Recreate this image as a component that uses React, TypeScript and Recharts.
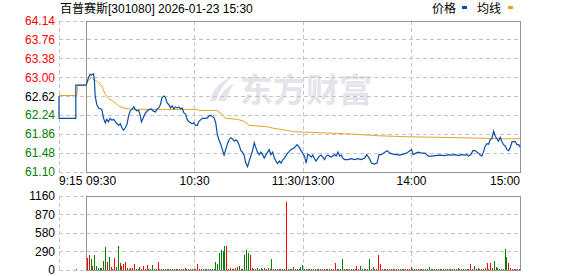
import {
  ComposedChart,
  BarChart,
  Line,
  Bar,
  Cell,
  XAxis,
  YAxis,
  CartesianGrid,
  ReferenceArea,
} from "recharts"

const title = "百普赛斯[301080] 2026-01-23 15:30"
const preClose = 62.62
const priceTicks = [61.1, 61.48, 61.86, 62.24, 62.62, 63.0, 63.38, 63.76, 64.14]
const pctLabels = ["2.43%", "1.82%", "1.21%", "0.61%", "0.00%", "0.61%", "1.21%", "1.82%", "2.43%"]
const volTicks = [0, 290, 580, 870, 1160]
// minutes since 9:15
const timeTicks = [0, 15, 75, 135, 195, 255]
const timeLabels = ["9:15", "09:30", "10:30", "11:30/13:00", "14:00", "15:00"]

// [minute, price]
const pricePoints: [number, number][] = [
  [0, 62.63], [0, 62.18], [9.3, 62.18], [9.3, 62.85], [15, 62.85],
  [16.3, 63.0], [17.2, 63.07], [17.8, 63.05], [19.1, 63.08], [19.6, 62.93], [20, 62.63],
  [20.9, 62.46], [21.9, 62.39], [23.7, 62.36], [24.6, 62.19], [25.6, 62.09], [26.5, 62.16],
  [27.4, 62.11], [28.3, 62.18], [29.3, 62.14], [30.2, 62.16], [31.1, 62.12], [32, 62.07],
  [33, 62.04], [33.9, 62.07], [34.8, 61.99], [35.7, 61.94], [36.7, 61.99], [37.6, 62.06],
  [38.5, 62.23], [39.4, 62.33], [40.4, 62.36], [41.3, 62.41], [42.2, 62.36], [43.1, 62.33],
  [44.1, 62.34], [45, 62.23], [45.6, 62.11], [46.3, 62.16], [47.4, 62.26], [48.7, 62.33],
  [50, 62.36], [51.1, 62.37], [52, 62.33], [53.3, 62.31], [54.3, 62.37], [55.2, 62.39],
  [56.1, 62.46], [57, 62.6], [58, 62.63], [58.9, 62.6], [59.8, 62.49], [60.7, 62.46],
  [61.7, 62.39], [62.6, 62.43], [63.5, 62.37], [64.4, 62.41], [65.4, 62.39], [66.3, 62.41],
  [67.2, 62.37], [68.1, 62.39], [69.1, 62.29], [70, 62.26], [70.9, 62.16], [71.9, 62.11],
  [72.8, 62.09], [73.7, 62.07], [74.6, 62.09], [75.6, 62.04], [76.5, 62.04], [77.4, 62.12],
  [79.3, 62.18], [81.1, 62.18], [82.1, 62.19], [83, 62.23], [84, 62.24], [85.8, 62.19],
  [86.7, 62.09], [87.6, 61.85], [88.5, 61.75], [89.5, 61.65], [90.4, 61.55], [91.3, 61.44],
  [92.2, 61.55], [93.2, 61.67], [94.1, 61.75], [95, 61.79], [95.9, 61.77], [96.9, 61.72],
  [97.8, 61.75], [98.7, 61.72], [99.6, 61.65], [100.6, 61.53], [101.5, 61.5], [102.4, 61.44],
  [103.3, 61.28], [104.3, 61.21], [105.2, 61.32], [106.1, 61.42], [107, 61.52], [108, 61.69],
  [108.9, 61.59], [109.8, 61.5], [110.8, 61.45], [111.7, 61.5], [112.6, 61.45], [113.5, 61.38],
  [114.5, 61.45], [115.4, 61.5], [116.3, 61.55], [117.2, 61.45], [118.2, 61.5], [119.1, 61.38],
  [120, 61.32], [120.9, 61.27], [121.9, 61.32], [122.8, 61.28], [123.7, 61.34], [124.6, 61.38],
  [126.5, 61.48], [128.3, 61.55], [130.2, 61.59], [131.7, 61.65], [133, 61.59], [133.9, 61.53],
  [134.8, 61.48], [135.8, 61.42], [136.7, 61.28], [137.6, 61.46], [138.5, 61.44], [139.5, 61.4],
  [140.4, 61.44], [141.3, 61.37], [142.2, 61.32], [143.2, 61.38], [144.1, 61.42], [145, 61.44],
  [145.9, 61.4], [146.9, 61.35], [147.8, 61.42], [148.7, 61.44], [150.6, 61.4], [152.4, 61.45],
  [153.3, 61.42], [154.3, 61.5], [155.2, 61.42], [156.1, 61.44], [157, 61.38], [158, 61.35],
  [159.8, 61.35], [161.7, 61.37], [163.5, 61.35], [165.4, 61.37], [167.2, 61.35], [169.1, 61.38],
  [170.2, 61.45], [171.9, 61.36], [172.8, 61.28], [174.6, 61.26], [175.9, 61.28], [177, 61.45],
  [178.3, 61.45], [180.2, 61.5], [181.5, 61.53], [183, 61.48], [184.8, 61.46], [186.7, 61.45],
  [188.5, 61.44], [190.4, 61.46], [192.2, 61.48], [194.1, 61.53], [195, 61.55], [195.9, 61.45],
  [197.4, 61.48], [198.7, 61.5], [200.6, 61.48], [202.4, 61.48], [204.3, 61.42], [206.1, 61.42],
  [208, 61.43], [210.7, 61.44], [213.5, 61.43], [215.4, 61.45], [217.2, 61.44], [219.1, 61.45],
  [220.9, 61.43], [222.8, 61.45], [224.1, 61.44], [225.6, 61.45], [226.5, 61.42], [227.8, 61.45],
  [228.9, 61.53], [230.2, 61.53], [231.1, 61.5], [232, 61.48], [233, 61.44], [233.9, 61.42],
  [234.8, 61.5], [235.7, 61.62], [236.7, 61.67], [237.6, 61.66], [238.5, 61.75], [239.4, 61.77],
  [240.4, 61.92], [241.3, 61.82], [242.2, 61.77], [243.1, 61.72], [244.1, 61.8], [245, 61.71],
  [245.9, 61.65], [246.9, 61.62], [247.8, 61.55], [248.7, 61.53], [249.6, 61.59], [250.6, 61.71],
  [252.4, 61.71], [253.3, 61.65], [254.3, 61.65], [255, 61.6],
]

// [minute, average price]
const avgPoints: [number, number][] = [
  [0, 62.64], [9.8, 62.64], [10.4, 62.85], [15, 62.85], [16.3, 62.95], [18.1, 63.0],
  [20, 62.95], [21.9, 62.9], [23.7, 62.83], [25.6, 62.66], [27.4, 62.58], [29.3, 62.54],
  [31.1, 62.49], [33, 62.43], [35.7, 62.39], [38.5, 62.37], [42.2, 62.36], [76.5, 62.36],
  [77.4, 62.34], [86.7, 62.34], [87.6, 62.33], [90.4, 62.26], [92.2, 62.18], [98.7, 62.16],
  [102.4, 62.12], [105.2, 62.04], [115.4, 62.01], [117.2, 61.99], [125.6, 61.94], [130.2, 61.91],
  [145, 61.89], [158, 61.87], [168.2, 61.85], [176.5, 61.83], [192.2, 61.81], [221.9, 61.79],
  [246.9, 61.77], [255, 61.77],
]

// auction volume at 9:25
const auctionVolume = 20
// per-minute volume 9:31 .. 15:00
const volumes = [
  183, 230, 168, 63, 230, 63, 31, 31, 31, 146,
  360, 125, 204, 42, 21, 188, 47, 376, 110, 63,
  94, 125, 31, 21, 31, 31, 94, 16, 16, 47,
  16, 63, 16, 78, 16, 16, 78, 16, 16, 125,
  15, 15, 15, 15, 15, 15, 15, 15, 15, 15,
  15, 15, 15, 15, 31, 15, 15, 15, 15, 15,
  15, 94, 15, 15, 15, 15, 15, 15, 15, 15,
  15, 125, 100, 266, 313, 303, 376, 376, 15, 31,
  15, 15, 31, 47, 63, 15, 15, 235, 313, 266,
  235, 31, 15, 15, 26, 15, 31, 15, 31, 15,
  31, 15, 172, 15, 15, 15, 15, 15, 15, 15,
  1066, 15, 15, 15, 47, 15, 15, 15, 47, 78,
  15, 15, 15, 15, 15, 15, 15, 15, 15, 15,
  15, 15, 15, 15, 15, 15, 15, 110, 15, 15,
  15, 172, 15, 15, 15, 15, 15, 15, 15, 63,
  15, 63, 15, 15, 15, 15, 172, 15, 47, 15,
  15, 235, 94, 15, 15, 15, 15, 15, 15, 15,
  15, 15, 15, 15, 15, 15, 15, 15, 15, 47,
  15, 15, 15, 15, 15, 15, 15, 15, 15, 47,
  15, 15, 15, 15, 15, 15, 15, 15, 15, 15,
  15, 15, 15, 15, 15, 31, 15, 15, 15, 15,
  15, 15, 94, 15, 63, 15, 31, 15, 15, 15,
  31, 110, 15, 110, 31, 141, 47, 31, 15, 15,
  15, 329, 204, 110, 31, 15, 15, 15, 15, 15,
]
// r = up minute, g = down minute
const volumeDirs = [
  "rrgrgggggg", "grgrrrggrg", "rrrrrrrggg", "rrrrrgggrr", "ggrrgrggrr",
  "grgrrgrggg", "rrrgrggrgg", "gggggggrgr", "rgrrgggggg", "rrrggrggrg",
  "rggrggrgrg", "rgrggrgggg", "rggrrggrgr", "grrggrgrgr", "ggrgrrggrr",
  "rggrgggrgr", "rrrrgrrgrr", "grrgrrgrrr", "rgrrggrggg", "grggrgrrgg",
  "rggrgrgggg", "rgrggrgrgr", "rrgrrggggr", "gggrrrgrrg",
].join("")

const RED = "#ff0000"
const GREEN = "#008000"
const BLUE = "#0a4fa3"
const ORANGE = "#e3a526"
const GRID = "#c4c4c4"
const BORDER = "#939393"
const FONT = '"Liberation Sans", "Noto Sans CJK SC", sans-serif'
const CJK = '"Noto Sans CJK SC", "Liberation Sans", sans-serif'

const priceData = pricePoints.map(([t, p]) => ({ t, p }))
const avgData = avgPoints.map(([t, p]) => ({ t, p }))
const volumeData = [
  { t: 10, v: auctionVolume, up: true },
  ...volumes.map((v, i) => ({ t: 16 + i, v, up: volumeDirs[i] === "r" })),
]

const levelColor = (v: number) =>
  v > preClose + 0.001 ? RED : v < preClose - 0.001 ? GREEN : "#000"

const LeftPriceTick = (props: any) => {
  const { x, y, payload } = props
  return (
    <text x={x} y={y} dy={4} textAnchor="end" fontSize={12} fontFamily={FONT} fill={levelColor(payload.value)}>
      {payload.value.toFixed(2)}
    </text>
  )
}

const RightPctTick = (props: any) => {
  const { x, y, payload, index } = props
  return (
    <text x={x} y={y} dy={4} textAnchor="start" fontSize={12} fontFamily={FONT} fill={levelColor(payload.value)}>
      {pctLabels[index]}
    </text>
  )
}

const TimeTick = (props: any) => {
  const { x, y, index } = props
  const anchor = index <= 1 ? "start" : index === timeLabels.length - 1 ? "end" : "middle"
  return (
    <text x={x} y={y} dy={13} textAnchor={anchor} fontSize={12} fontFamily={FONT} fill="#000">
      {timeLabels[index]}
    </text>
  )
}

const VolTick = (props: any) => {
  const { x, y, payload } = props
  return (
    <text x={x} y={y} dy={4} textAnchor="end" fontSize={12} fontFamily={FONT} fill="#000">
      {payload.value}
    </text>
  )
}

export default function App() {
  return (
    <div style={{ position: "absolute", left: 0, top: 0, width: 578, height: 276, background: "#fff" }}>
      {/* watermark */}
      <div style={{ position: "absolute", left: 204, top: 72, display: "flex", alignItems: "center" }}>
        <svg width={32} height={32} style={{ marginRight: 4 }}>
          <path d="M6 28 Q10 10 28 4 Q16 14 12 28 Z" fill="#e4e4ea" />
          <path d="M14 28 Q18 16 30 10 Q24 20 22 28 Z" fill="#e4e4ea" />
        </svg>
        <span style={{ fontFamily: CJK, fontWeight: 700, fontSize: 33, lineHeight: "33px", color: "#e4e4ea" }}>
          东方财富
        </span>
      </div>

      <div style={{ position: "absolute", left: 0, top: 0 }}>
        <ComposedChart width={578} height={190} margin={{ top: 21, right: 0, bottom: 0, left: 0 }}>
          <CartesianGrid yAxisId="left" stroke={GRID} strokeDasharray="4 3" shapeRendering="crispEdges" />
          <XAxis
            dataKey="t"
            type="number"
            domain={[0, 255]}
            ticks={timeTicks}
            interval={0}
            height={18}
            tickSize={0}
            tickMargin={0}
            axisLine={false}
            tickLine={false}
            tick={TimeTick}
          />
          <YAxis
            yAxisId="left"
            type="number"
            domain={[61.1, 64.14]}
            ticks={priceTicks}
            interval={0}
            width={59}
            tickSize={0}
            tickMargin={4}
            axisLine={false}
            tickLine={false}
            tick={LeftPriceTick}
          />
          <YAxis
            yAxisId="right"
            orientation="right"
            type="number"
            domain={[61.1, 64.14]}
            ticks={priceTicks}
            interval={0}
            width={58}
            tickSize={0}
            tickMargin={3}
            axisLine={false}
            tickLine={false}
            tick={RightPctTick}
          />
          <ReferenceArea
            yAxisId="left"
            x1={15}
            x2={255}
            y1={61.1}
            y2={64.14}
            fill="none"
            stroke={BORDER}
            strokeWidth={1}
            shapeRendering="crispEdges"
            ifOverflow="visible"
          />
          <Line
            yAxisId="left"
            data={avgData}
            dataKey="p"
            type="linear"
            stroke={ORANGE}
            strokeWidth={1}
            dot={false}
            isAnimationActive={false}
          />
          <Line
            yAxisId="left"
            data={priceData}
            dataKey="p"
            type="linear"
            stroke={BLUE}
            strokeWidth={1.2}
            dot={false}
            isAnimationActive={false}
          />
        </ComposedChart>
      </div>

      <div style={{ position: "absolute", left: 0, top: 186 }}>
        <BarChart width={578} height={90} data={volumeData} margin={{ top: 10, right: 58, bottom: 6, left: 0 }}>
          <CartesianGrid stroke={GRID} strokeDasharray="4 3" shapeRendering="crispEdges" />
          <XAxis dataKey="t" type="number" domain={[0, 255]} ticks={timeTicks} interval={0} hide />
          <YAxis
            type="number"
            domain={[0, 1160]}
            ticks={volTicks}
            interval={0}
            width={59}
            tickSize={0}
            tickMargin={4}
            axisLine={false}
            tickLine={false}
            tick={VolTick}
          />
          <ReferenceArea
            x1={15}
            x2={255}
            y1={0}
            y2={1160}
            fill="none"
            stroke={BORDER}
            strokeWidth={1}
            shapeRendering="crispEdges"
            ifOverflow="visible"
          />
          <Bar dataKey="v" barSize={1} shapeRendering="crispEdges" isAnimationActive={false}>
            {volumeData.map((d, i) => (
              <Cell key={i} fill={d.up ? RED : GREEN} />
            ))}
          </Bar>
        </BarChart>
      </div>

      {/* title and legend */}
      <svg width={578} height={20} style={{ position: "absolute", left: 0, top: 0 }}>
        <text x={60} y={13} fontSize={12} fontFamily={FONT} fill="#000">
          {title}
        </text>
        <text x={432} y={13} fontSize={12} fontFamily={CJK} fill="#000">
          价格
        </text>
        <rect x={462} y={6} width={5} height={3} fill={BLUE} />
        <text x={477} y={13} fontSize={12} fontFamily={CJK} fill="#000">
          均线
        </text>
        <rect x={508} y={6} width={5} height={3} fill={ORANGE} />
      </svg>
    </div>
  )
}
